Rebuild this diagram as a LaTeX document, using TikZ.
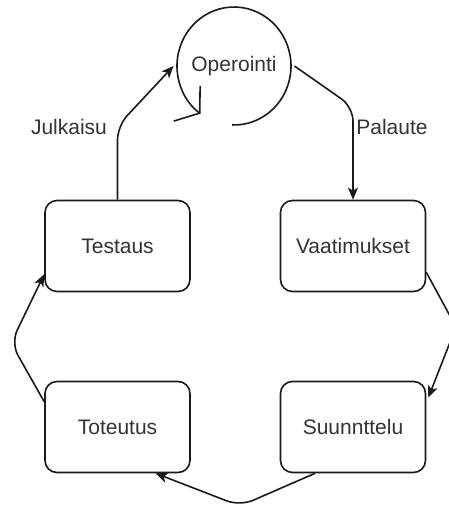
\documentclass[tikz,border=0pt]{standalone}
\usepackage{fontspec}
\setmainfont{Liberation Sans}
\usetikzlibrary{arrows.meta,shapes.geometric}
\definecolor{ink}{HTML}{1A1A1A}
\definecolor{txt}{HTML}{333333}
\begin{document}
\begin{tikzpicture}[x=1pt,y=-1pt,
  font=\fontsize{21}{25}\selectfont,
  stage/.style={draw=ink,line width=1.6pt,rounded corners=12pt,
    minimum width=145pt,minimum height=91pt,text=txt,inner sep=0pt},
  lbl/.style={text=txt,inner sep=0pt},
  conn/.style={draw=ink,line width=1.6pt,rounded corners=14pt,
    -{Stealth[length=12pt,width=10pt,inset=3pt]}}]
\useasboundingbox (0,0) rectangle (448,506);

% the operation cycle, drawn as an open loop round its label
\node[lbl,ellipse,minimum width=114pt,minimum height=118pt] (op) at (234,66) {Operointi};
\draw[ink,line width=1.6pt,-{Straight Barb[length=16pt,width=44pt,line width=1.6pt]}]
  (op.center) ++(92:57 and 59) arc[start angle=92,end angle=-234,x radius=57,y radius=59];

% the four development stages
\node[stage] (test) at (117.5,246) {Testaus};
\node[stage] (vaat) at (353,246) {Vaatimukset};
\node[stage] (tot) at (117.5,427) {Toteutus};
\node[stage] (suun) at (353,427) {Suunnttelu};

% bends of the connectors
\coordinate (bj) at (117.5,126);
\coordinate (bp) at (353,107);
\coordinate (bvs) at (456,327);
\coordinate (bst) at (240,506);
\coordinate (btt) at (11,343);

\draw[conn] (test.north) -- (bj) -- (op.west);
\draw[conn] (op.east) -- (bp) -- (vaat.north);
\draw[conn] ([yshift=20pt]vaat.south east) -- (bvs) -- ([yshift=-17pt,xshift=2pt]suun.north east);
\draw[conn] ([xshift=-38pt]suun.south) -- (bst) -- ([xshift=38pt]tot.south);
\draw[conn] ([yshift=-21pt]tot.north west) -- (btt) -- ([yshift=18pt]test.south west);

% connector labels
\node[lbl] (julk) at (69,127) {Julkaisu};
\node[lbl] (pal) at (392,127) {Palaute};
\end{tikzpicture}
\end{document}
